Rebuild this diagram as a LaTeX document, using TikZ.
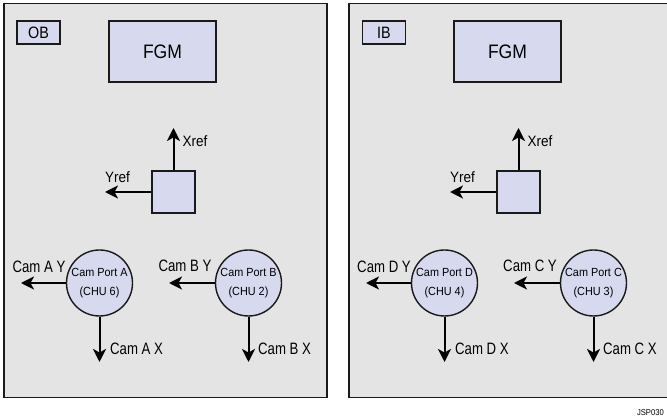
\documentclass[tikz,border=0pt]{standalone}
\usepackage{fontspec}
\setmainfont{Liberation Sans}[FakeStretch=0.9]
\newfontfamily\camfont{Liberation Sans}[FakeStretch=0.8]
\newfontfamily\portfont{Liberation Sans}[FakeStretch=0.92]
\newfontfamily\tagfont{Liberation Sans}[FakeStretch=0.87]
\usetikzlibrary{arrows.meta}
\definecolor{panelfill}{HTML}{E4E4E4}
\definecolor{boxfill}{HTML}{D7DAEE}
\definecolor{edge}{HTML}{1A1A1A}
\tikzset{
  panel/.style={draw=edge, line width=1.5pt, fill=panelfill, inner sep=0pt},
  tagbox/.style={draw=edge, line width=1.2pt, fill=boxfill, inner sep=0pt, minimum width=43pt, minimum height=23pt, font=\tagfont\fontsize{16.5}{16.5}\selectfont},
  fgmbox/.style={draw=edge, line width=1.4pt, fill=boxfill, inner sep=0pt, minimum width=107pt, minimum height=61pt, font=\fontsize{19.5}{19.5}\selectfont},
  refbox/.style={draw=edge, line width=1.8pt, fill=boxfill, inner sep=0pt, minimum width=43pt, minimum height=42pt},
  port/.style={circle, draw=edge, line width=1.4pt, fill=boxfill, inner sep=0pt, minimum size=66pt, align=center, font=\portfont\fontsize{11.8}{18.5}\selectfont},
  axis/.style={line width=2pt, draw=black, -{Stealth[length=13pt,width=13pt,inset=3.5pt]}},
  reflbl/.style={font=\fontsize{15}{15}\selectfont, inner sep=0pt},
  camlbl/.style={font=\camfont\fontsize{16.5}{16.5}\selectfont, inner sep=0pt},
}
\begin{document}
\begin{tikzpicture}[x=1pt,y=-1pt]
\useasboundingbox (0,0) rectangle (667,419);
% ---------- left panel (OB) ----------
\node[panel, minimum width=323pt, minimum height=394pt] (pL) at (165.5,200.5) {};
\node[tagbox] (ob) at (38.5,32.5) {OB};
\node[fgmbox] (fgmL) at (162.5,51.5) {FGM};
\node[refbox] (sqL) at (173.5,192) {};
\coordinate (xrL) at (173.5,128);
\coordinate (yrL) at (105,192);
\draw[axis] (sqL.north) -- (xrL);
\draw[axis] (sqL.west) -- (yrL);
\node[reflbl, anchor=west] (xrlL) at (182.5,141) {Xref};
\node[reflbl] (yrlL) at (117.5,177) {Yref};
\node[port] (pa) at (99.5,283) {Cam Port A\\(CHU 6)};
\coordinate (ayt) at (21,283);
\coordinate (axt) at (99.5,362);
\draw[axis] (pa.west) -- (ayt);
\draw[axis] (pa.south) -- (axt);
\node[camlbl] (ayl) at (39,267) {Cam A Y};
\node[camlbl, anchor=west] (axl) at (110,348.5) {Cam A X};
\node[port] (pb) at (248.5,283) {Cam Port B\\(CHU 2)};
\coordinate (byt) at (169,283);
\coordinate (bxt) at (248.5,362);
\draw[axis] (pb.west) -- (byt);
\draw[axis] (pb.south) -- (bxt);
\node[camlbl] (byl) at (185,266) {Cam B Y};
\node[camlbl, anchor=west] (bxl) at (258,348.5) {Cam B X};
% ---------- right panel (IB) ----------
\node[panel, minimum width=323pt, minimum height=394pt] (pR) at (510.5,200.5) {};
\node[tagbox] (ib) at (384,32.5) {IB};
\node[fgmbox] (fgmR) at (507.5,51.5) {FGM};
\node[refbox] (sqR) at (518.5,192) {};
\coordinate (xrR) at (518.5,128);
\coordinate (yrR) at (450,192);
\draw[axis] (sqR.north) -- (xrR);
\draw[axis] (sqR.west) -- (yrR);
\node[reflbl, anchor=west] (xrlR) at (527.5,141) {Xref};
\node[reflbl] (yrlR) at (462.5,177) {Yref};
\node[port] (pd) at (444.5,283) {Cam Port D\\(CHU 4)};
\coordinate (dyt) at (366,283);
\coordinate (dxt) at (444.5,362);
\draw[axis] (pd.west) -- (dyt);
\draw[axis] (pd.south) -- (dxt);
\node[camlbl] (dyl) at (384,267) {Cam D Y};
\node[camlbl, anchor=west] (dxl) at (455,348.5) {Cam D X};
\node[port] (pc) at (593.5,283) {Cam Port C\\(CHU 3)};
\coordinate (cyt) at (514,283);
\coordinate (cxt) at (593.5,362);
\draw[axis] (pc.west) -- (cyt);
\draw[axis] (pc.south) -- (cxt);
\node[camlbl] (cyl) at (530,266) {Cam C Y};
\node[camlbl, anchor=west] (cxl) at (603,348.5) {Cam C X};
% ---------- figure id ----------
\node[font=\fontsize{8.5}{8.5}\selectfont, inner sep=0pt, anchor=east] (jsp) at (664,413) {JSP030};
\end{tikzpicture}
\end{document}
